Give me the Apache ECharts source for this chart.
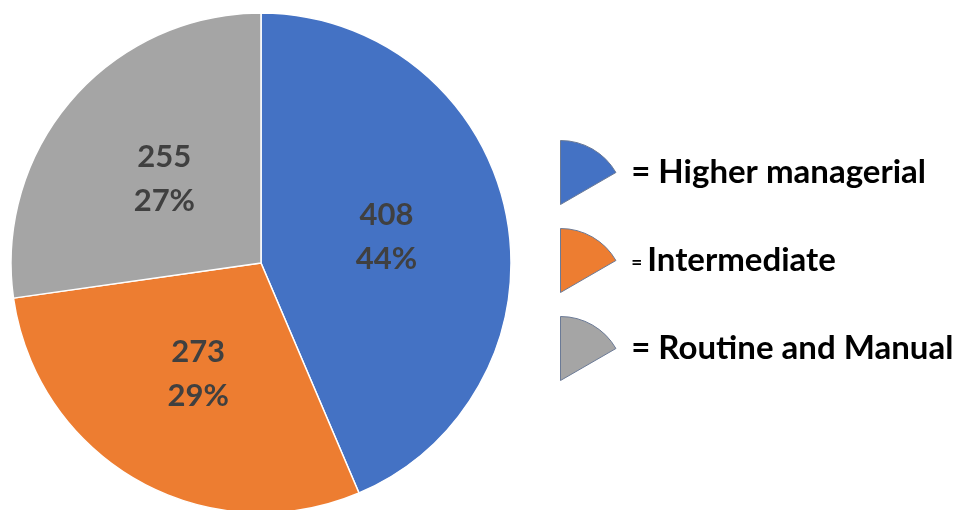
<!DOCTYPE html>
<html>
<head>
<meta charset="utf-8">
<script src="https://cdn.jsdelivr.net/npm/echarts@6/dist/echarts.min.js"></script>
<style>
  html, body { margin: 0; padding: 0; background: #fff; }
  #chart { width: 954px; height: 510px; }
</style>
</head>
<body>
<div id="chart"></div>
<script>
// Social class groups and their counts
const categories = ['Higher managerial', 'Intermediate', 'Routine and Manual'];
const counts = [408, 273, 255];
const colors = ['#4472C4', '#ED7D31', '#A5A5A5'];

const FONT = 'Lato, "Open Sans", sans-serif';

// Wedge-shaped legend marker: a 60° sector hinged at its bottom-left corner
const wedgeIcon = 'path://M0 0 A64 64 0 0 1 55.43 32 L0 64 Z';

const chart = echarts.init(document.getElementById('chart'), null, { renderer: 'canvas' });

chart.setOption({
  animation: false,
  color: colors,
  legend: {
    orient: 'vertical',
    left: 555,
    top: 135,
    itemWidth: 56,
    itemHeight: 64,
    itemGap: 23,
    icon: wedgeIcon,
    selectedMode: false,
    itemStyle: { borderColor: '#6b7a96', borderWidth: 1 },
    data: categories,
    formatter: function (name) {
      if (name === 'Intermediate') return '{eqs|=}{n|' + name + '}';
      return '{eq|=}{n| ' + name + '}';
    },
    textStyle: {
      rich: {
        eq: { fontFamily: FONT, fontWeight: 'bold', fontSize: 33, color: '#000', padding: [0, 0, 0, 10] },
        eqs: { fontFamily: FONT, fontWeight: 'bold', fontSize: 19, color: '#000', padding: [5, 5, 0, 10] },
        n: { fontFamily: FONT, fontWeight: 'bold', fontSize: 33, color: '#000' }
      }
    }
  },
  series: [{
    type: 'pie',
    center: [261, 263],
    radius: 250,
    startAngle: 90,
    clockwise: true,
    avoidLabelOverlap: false,
    itemStyle: { borderColor: '#ffffff', borderWidth: 1.5 },
    label: {
      show: true,
      position: 'inside',
      formatter: function (p) { return p.value + '\n' + Math.round(p.percent) + '%'; },
      fontFamily: FONT,
      fontWeight: 'bold',
      fontSize: 31,
      lineHeight: 44,
      color: '#404040'
    },
    labelLine: { show: false },
    emphasis: { disabled: true },
    data: categories.map(function (name, i) {
      return { name: name, value: counts[i] };
    })
  }]
});
</script>
</body>
</html>
